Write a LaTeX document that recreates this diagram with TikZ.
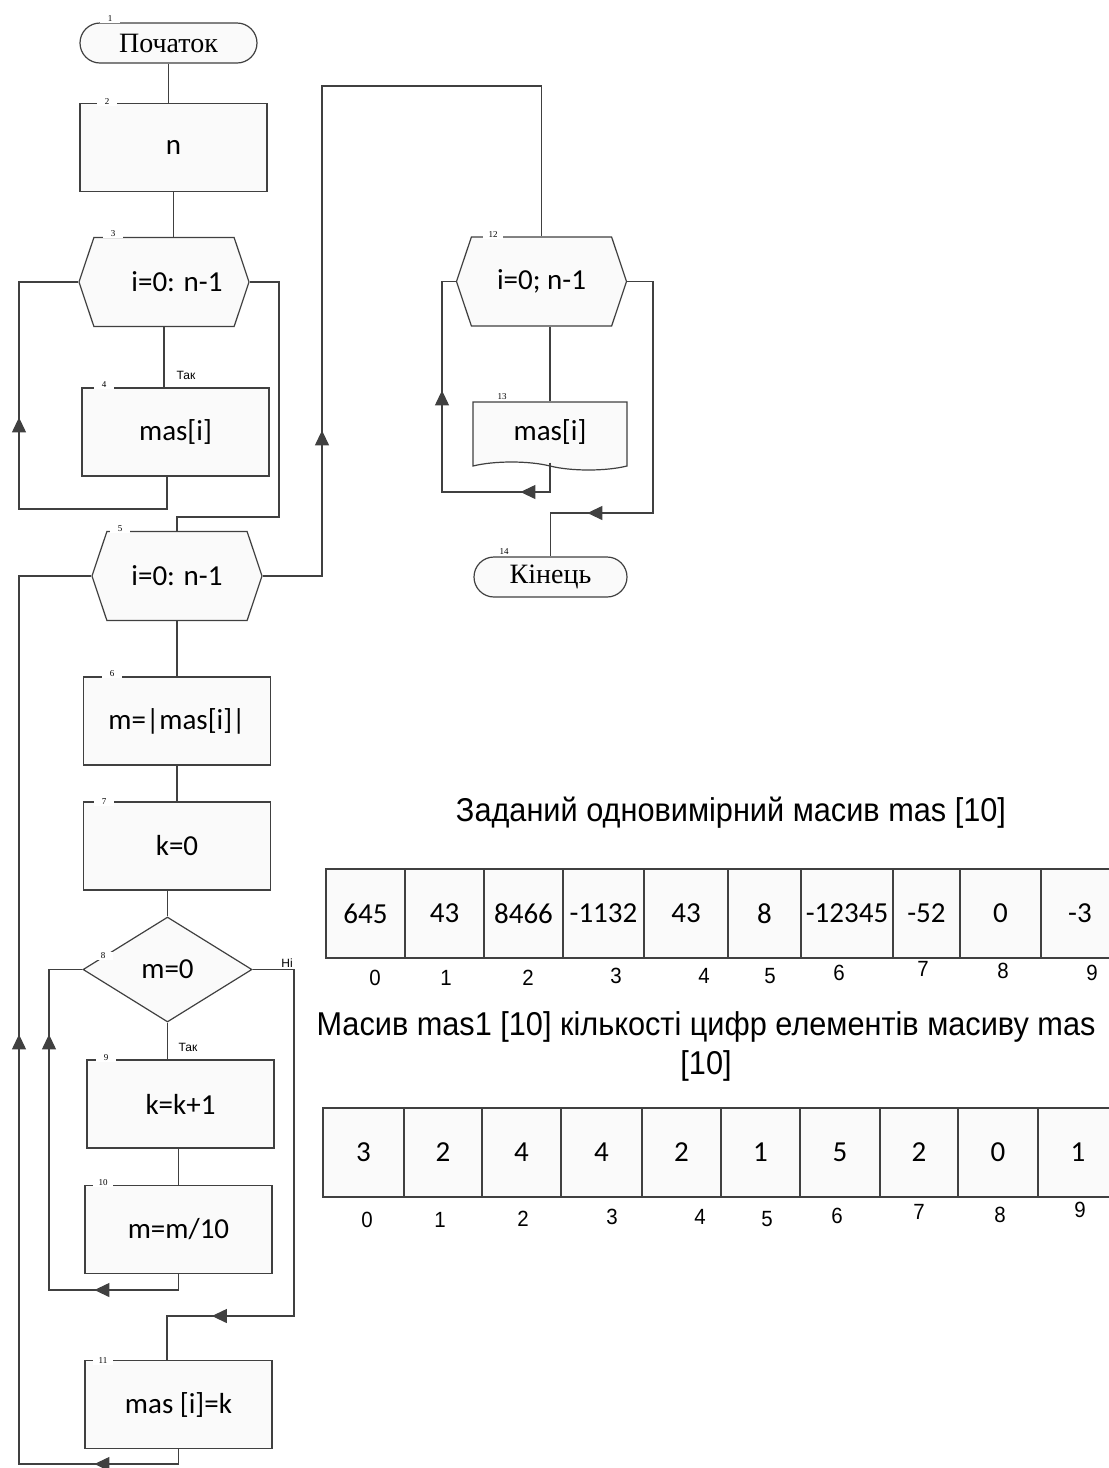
\documentclass[tikz,border=0pt]{standalone}
\usepackage{fontspec}
\setmainfont{Liberation Serif}
\newfontfamily\flowfont{Carlito}
\newfontfamily\arialfont{Liberation Sans}
\newfontfamily\narrowfont[FakeStretch=0.93]{Liberation Sans}
\usetikzlibrary{shapes.geometric,shapes.symbols,decorations.markings,arrows.meta}
\definecolor{linegray}{HTML}{404040}
\definecolor{boxfill}{HTML}{FAFAFA}
\tikzset{
  base/.style={draw=linegray, line width=0.6pt, fill=boxfill, inner sep=0pt},
  flowtext/.style={font=\flowfont\fontsize{14.5}{16}\selectfont},
  procbox/.style={base, flowtext, rectangle, minimum width=93.5pt, minimum height=44pt},
  loopbox/.style={base, flowtext, signal, signal to=east and west, signal pointer angle=143,
    minimum width=85pt, minimum height=44.5pt},
  decbox/.style={base, flowtext, diamond, minimum width=84.5pt, minimum height=52.5pt},
  termbox/.style={base, rectangle, rounded corners=10pt, minimum height=20pt,
    font=\fontsize{14}{15}\selectfont},
  docbox/.style={base, flowtext, tape, tape bend top=none, tape bend bottom=out and in,
    tape bend height=4pt, minimum width=77pt, minimum height=34pt},
  stepnum/.style={fill=white, inner sep=0.7pt, minimum width=10pt, font=\fontsize{4.5}{5}\selectfont},
  yesno/.style={inner sep=0pt, font=\arialfont\fontsize{6}{7}\selectfont},
  link/.style={draw=linegray, line width=0.6pt},
  arrowat/.style={postaction={decorate, decoration={markings,
    mark=at position #1 with {\arrow{Triangle[length=7.5pt,width=7pt]}}}}},
  cell/.style={draw=linegray, line width=0.6pt, fill=boxfill},
  cellnum/.style={font=\flowfont\fontsize{14.5}{16}\selectfont},
  idxnum/.style={font=\narrowfont\fontsize{11}{12}\selectfont},
  headline/.style={align=center, font=\narrowfont\fontsize{16.5}{19.5}\selectfont}
}
\begin{document}
\begin{tikzpicture}[x=0.5pt, y=-0.5pt]
  \useasboundingbox (0,0) rectangle (1109,1468);
  % flowchart blocks
  \path node[termbox, minimum width=88.5pt] (T1) at (168.5,43) {Початок}
        node[procbox] (B2) at (173.5,147.5) {n}
        node[loopbox] (H3) at (164,282) {\hspace*{13pt}i=0: n-1}
        node[procbox] (B4) at (175.5,432) {mas[i]}
        node[loopbox] (H5) at (177,576) {i=0: n-1}
        node[procbox] (B6) at (177,721) {m=|mas[i]|}
        node[procbox] (B7) at (177,846) {k=0}
        node[decbox] (D8) at (167.5,969.5) {m=0}
        node[procbox] (B9) at (180.5,1104) {k=k+1}
        node[procbox] (B10) at (178.5,1229.5) {m=m/10}
        node[procbox] (B11) at (178.5,1404.5) {mas [i]=k}
        node[loopbox] (H12) at (541.5,281.5) {i=0; n-1}
        node[docbox] (O13) at (550,432) {mas[i]}
        node[termbox, minimum width=76.5pt] (T14) at (550.5,577) {Кінець};
  % block numbers
  \foreach \k/\px/\py in {1/110/19, 2/107/102, 3/113/234, 4/104/385, 5/120/529,
      6/112/674, 7/104/802, 8/103/956, 9/106/1058, 10/103/1183, 11/103/1361,
      12/493/235, 13/502/397, 14/504/552}
    \node[stepnum] (N\k) at (\px,\py) {\k};
  \node[yesno] (Y4) at (186,375) {Так};
  \node[yesno] (Y9) at (188,1047) {Так};
  \node[yesno] (N8) at (287,963) {Ні};
  % corners
  \coordinate (C4) at (19,509);
  \coordinate (C5) at (279,517);
  \coordinate (C6) at (322,86);
  \coordinate (C7) at (19,1464);
  \coordinate (C13) at (49,1290);
  \coordinate (C14) at (294,1316);
  \coordinate (C16) at (442,492);
  \coordinate (C17) at (653,513);
  % connectors
  \draw[link] (T1.south) -- (T1.south |- B2.north);
  \draw[link] (B2.south) -- (B2.south |- H3.north);
  \draw[link] (H3.south) -- (H3.south |- B4.north);
  \draw[link, arrowat=136pt] ([xshift=-4.25pt]B4.south) |- (C4) |- (H3.west);
  \draw[link] (H3.east) -| (C5) -| (H5.north);
  \draw[link, arrowat=102.5pt] (H5.east) -| (C6) -| (H12.north);
  \draw[link] (H5.south) -- (B6.north);
  \draw[link] (B6.south) -- (B7.north);
  \draw[link] (D8.north |- B7.south) -- (D8.north);
  \draw[link] (D8.south) -- (D8.south |- B9.north);
  \draw[link] (B10.north |- B9.south) -- (B10.north);
  \draw[link, arrowat=50pt, arrowat=200.5pt] (B10.south) |- (C13) |- (D8.west);
  \draw[link, arrowat=235pt] (D8.east) -| (C14) -| ([xshift=-5.75pt]B11.north);
  \draw[link, arrowat=49.5pt, arrowat=302pt] (B11.south) |- (C7) |- (H5.west);
  \draw[link] (O13.north |- H12.south) -- (O13.north);
  \draw[link, arrowat=29.5pt, arrowat=119.5pt] (O13.south) |- (C16) |- (H12.west);
  \draw[link, arrowat=161.5pt] (H12.east) -| (C17) -| (T14.north);
  % array mas
  \node[headline] (Title1) at (731,813) {Заданий одновимірний масив mas [10]};
  \foreach \xa/\xb/\v [count=\i from 0] in {326/405/645, 405/484/43, 484/563/8466,
      563/644/-1132, 644/728/43, 728/801/8, 801/893/-12345, 893/960/-52,
      960/1041/0, 1041/1119/-3} {
    \draw[cell] (\xa,869) rectangle (\xb,958);
    \node[cellnum] (A\i) at ({(\xa+\xb)/2},913.5) {\v};
  }
  \foreach \v/\px/\py in {0/375/978, 1/446/978, 2/528/978, 3/616/976, 4/704/976,
      5/770/976, 6/839/973, 7/923/969, 8/1003/971, 9/1092/973}
    \node[idxnum] (P\v) at (\px,\py) {\v};
  % array mas1
  \node[headline] (Title2) at (706,1046) {Масив mas1 [10] кількості цифр елементів масиву mas\\{[10]}};
  \foreach \xa/\xb/\v [count=\i from 0] in {323/404/3, 404/482/2, 482/561/4,
      561/642/4, 642/721/2, 721/800/1, 800/880/5, 880/958/2,
      958/1038/0, 1038/1118/1} {
    \draw[cell] (\xa,1108) rectangle (\xb,1197);
    \node[cellnum] (M\i) at ({(\xa+\xb)/2},1152.5) {\v};
  }
  \foreach \v/\px/\py in {0/367/1220, 1/440/1220, 2/523/1219, 3/612/1217, 4/700/1217,
      5/767/1219, 6/837/1216, 7/919/1212, 8/1000/1215, 9/1080/1210}
    \node[idxnum] (Q\v) at (\px,\py) {\v};
\end{tikzpicture}
\end{document}
